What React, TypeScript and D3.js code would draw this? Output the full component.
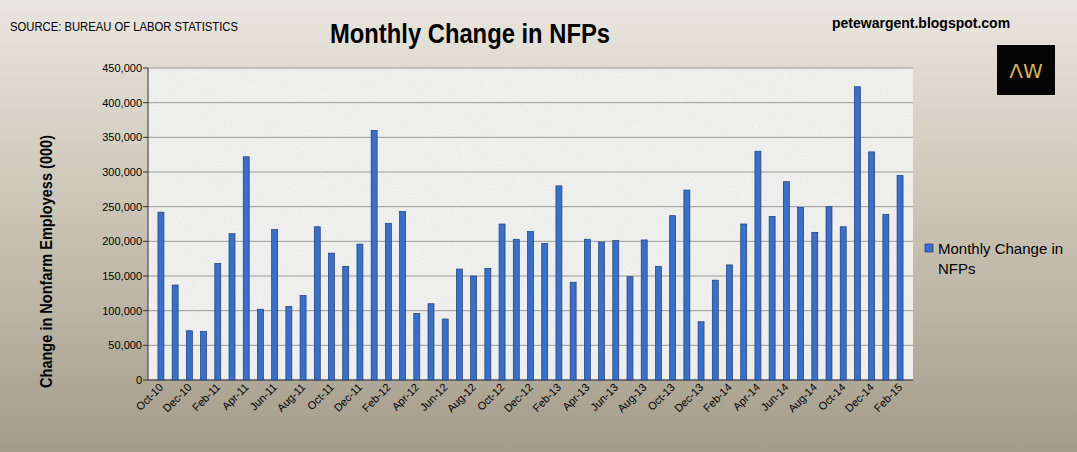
import React from "react";
import * as d3 from "d3";

const months = ["Oct-10","Nov-10","Dec-10","Jan-11","Feb-11","Mar-11","Apr-11","May-11","Jun-11","Jul-11","Aug-11","Sep-11","Oct-11","Nov-11","Dec-11","Jan-12","Feb-12","Mar-12","Apr-12","May-12","Jun-12","Jul-12","Aug-12","Sep-12","Oct-12","Nov-12","Dec-12","Jan-13","Feb-13","Mar-13","Apr-13","May-13","Jun-13","Jul-13","Aug-13","Sep-13","Oct-13","Nov-13","Dec-13","Jan-14","Feb-14","Mar-14","Apr-14","May-14","Jun-14","Jul-14","Aug-14","Sep-14","Oct-14","Nov-14","Dec-14","Jan-15","Feb-15"];
const values = [242,137,71,70,168,211,322,102,217,106,122,221,183,164,196,360,226,243,96,110,88,160,150,161,225,203,214,197,280,141,203,199,201,149,202,164,237,274,84,144,166,225,330,236,286,249,213,250,221,423,329,239,295].map(v=>v*1000);
const yTicks = [0,50000,100000,150000,200000,250000,300000,350000,400000,450000];

export default function App() {
  const W = 1077, H = 452;
  const L = 148, R = 913, T = 68, B = 380;
  const x = d3.scaleBand().domain(months).range([L, R]).paddingInner(0.58).paddingOuter(0.7);
  const y = d3.scaleLinear().domain([0, 450000]).range([B, T]);
  const fmt = d3.format(",");
  return (
    <svg width={W} height={H} style={{position:"absolute",left:0,top:0}} fontFamily="Arial, 'Liberation Sans', sans-serif">
      <defs>
        <linearGradient id="bg" x1="0" y1="0" x2="0" y2="1">
          <stop offset="0" stopColor="#e9e6df"/>
          <stop offset="0.5" stopColor="#c9c2b3"/>
          <stop offset="1" stopColor="#a59c8a"/>
        </linearGradient>
        <filter id="tex" x="0" y="0" width="1" height="1">
          <feTurbulence type="fractalNoise" baseFrequency="0.9" numOctaves="2" seed="3"/>
          <feColorMatrix type="matrix" values="0 0 0 0 0.78 0 0 0 0 0.78 0 0 0 0 0.77 0 0 0 -1.6 1.1"/>
        </filter>
      </defs>
      <rect x={0} y={0} width={W} height={H} fill="url(#bg)"/>
      <rect x={L} y={T} width={R-L} height={B-T} fill="#f2f2f0"/>
      <rect x={L} y={T} width={R-L} height={B-T} filter="url(#tex)"/>
      {yTicks.map(t => (
        <g key={t}>
          <line x1={L} x2={R} y1={y(t)} y2={y(t)} stroke="#9a9a9a" strokeWidth={1}/>
          <line x1={L-5} x2={L} y1={y(t)} y2={y(t)} stroke="#333"/>
          <text x={L-6} y={y(t)+4} textAnchor="end" fontSize={11}>{fmt(t)}</text>
        </g>
      ))}
      <line x1={L} x2={L} y1={T} y2={B} stroke="#333"/>
      <line x1={L} x2={R} y1={B} y2={B} stroke="#333"/>
      {values.map((v, i) => (
        <rect key={i} x={x(months[i])} y={y(v)} width={x.bandwidth()} height={B - y(v)} fill="#3a6fc8" stroke="#1c3c78" strokeWidth={0.7}/>
      ))}
      {months.map((m, i) => i % 2 === 0 ? (
        <text key={m} transform={`translate(${x(m)! + x.bandwidth()/2 + 3},${B+8}) rotate(-45)`} textAnchor="end" fontSize={11}>{m}</text>
      ) : null)}
      <text x={10} y={31} fontSize={12} textLength={228} lengthAdjust="spacingAndGlyphs">SOURCE: BUREAU OF LABOR STATISTICS</text>
      <text x={330} y={43} fontSize={27} fontWeight="bold" textLength={280} lengthAdjust="spacingAndGlyphs">Monthly Change in NFPs</text>
      <text x={832} y={28} fontSize={14} fontWeight="bold">petewargent.blogspot.com</text>
      <rect x={997} y={45} width={58} height={50} fill="#050505"/>
      <text x={1026} y={78} textAnchor="middle" fontSize={20} fill="#d8b060" fontFamily="DejaVu Sans">ΛW</text>
      <text transform={`translate(52,388) rotate(-90)`} fontSize={16} fontWeight="bold" textLength={253} lengthAdjust="spacingAndGlyphs">Change in Nonfarm Employess (000)</text>
      <rect x={925} y={244} width={8} height={8} fill="#3a6fc8" stroke="#1c3c78" strokeWidth={0.7}/>
      <text x={938} y={254} fontSize={15}>Monthly Change in</text>
      <text x={938} y={274} fontSize={15}>NFPs</text>
    </svg>
  );
}
